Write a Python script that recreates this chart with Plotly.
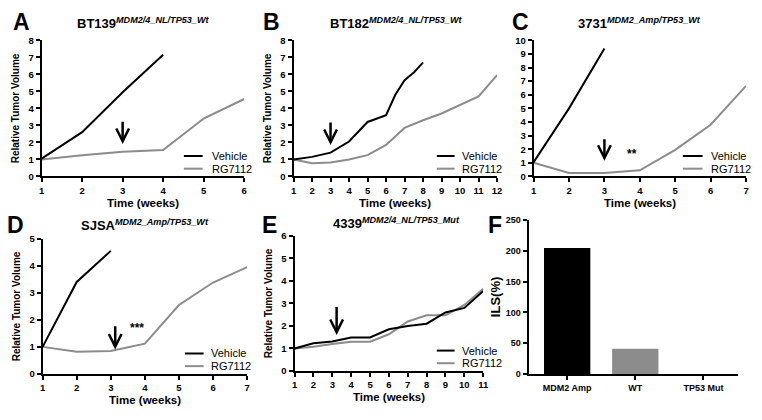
import plotly.graph_objects as go

# page is 762x420; the HTML body adds an 8px margin, so the figure is drawn smaller
PAGE_W, PAGE_H = 762, 420
OFF = 8
FW, FH = PAGE_W - 2 * OFF, PAGE_H - 2 * OFF
FONT = "Liberation Sans"
GRAY = "#8c8c8c"

# ---------------- data ----------------
a_veh_x = [1, 2, 3, 4]
a_veh_y = [1.05, 2.6, 4.95, 7.15]
a_rg_x = [1, 2, 3, 4, 5, 6]
a_rg_y = [1.0, 1.25, 1.45, 1.55, 3.4, 4.55]

b_veh_x = [1, 2, 3, 4, 5, 6, 6.5, 7, 7.5, 8]
b_veh_y = [1.0, 1.15, 1.4, 2.05, 3.2, 3.6, 4.8, 5.65, 6.1, 6.7]
b_rg_x = [1, 2, 3, 4, 5, 6, 7, 8, 9, 10, 11, 12]
b_rg_y = [1.0, 0.78, 0.82, 1.0, 1.25, 1.85, 2.85, 3.3, 3.7, 4.2, 4.7, 5.95]

c_veh_x = [1, 2, 3]
c_veh_y = [1.05, 5.0, 9.4]
c_rg_x = [1, 2, 3, 4, 5, 6, 7]
c_rg_y = [1.0, 0.25, 0.25, 0.45, 1.95, 3.8, 6.65]

d_veh_x = [1, 2, 3]
d_veh_y = [1.0, 3.4, 4.55]
d_rg_x = [1, 2, 3, 4, 5, 6, 7]
d_rg_y = [1.0, 0.82, 0.85, 1.12, 2.55, 3.38, 3.95]

e_veh_x = [1, 2, 3, 4, 5, 6, 7, 8, 9, 10, 11]
e_veh_y = [1.0, 1.23, 1.31, 1.49, 1.49, 1.85, 2.0, 2.1, 2.6, 2.8, 3.55]
e_rg_x = [1, 2, 3, 4, 5, 6, 7, 8, 9, 10, 11]
e_rg_y = [1.0, 1.08, 1.2, 1.3, 1.3, 1.63, 2.2, 2.47, 2.47, 2.93, 3.65]

f_cats = ["MDM2 Amp", "WT", "TP53 Mut"]
f_vals = [205, 41, 0]
f_colors = ["black", GRAY, GRAY]

titles = {
    "A": ("BT139", "MDM2/4_NL/TP53_Wt"),
    "B": ("BT182", "MDM2/4_NL/TP53_Wt"),
    "C": ("3731", "MDM2_Amp/TP53_Wt"),
    "D": ("SJSA", "MDM2_Amp/TP53_Wt"),
    "E": ("4339", "MDM2/4_NL/TP53_Mut"),
}

# ---------------- layout in page pixels ----------------
panels = {
    "A": dict(px=(39, 244, 35, 175), xr=[1, 6], yr=[0, 8], dy=1),
    "B": dict(px=(294, 500, 35, 175), xr=[1, 12], yr=[0, 8], dy=1),
    "C": dict(px=(537, 752, 35, 175), xr=[1, 7], yr=[0, 10], dy=1),
    "D": dict(px=(40, 247, 239, 378), xr=[1, 7], yr=[0, 5], dy=1),
    "E": dict(px=(295, 486, 236, 375), xr=[1, 11], yr=[0, 6], dy=1),
    "F": dict(px=(532, 744, 220, 378), xr=[-0.565, 2.51], yr=[0, 250], dy=50),
}

def px2x(p):
    return (p - OFF) / FW

def px2y(p):
    return 1 - (p - OFF) / FH

fig = go.Figure()
annotations = []
shapes = []

names = ["A", "B", "C", "D", "E", "F"]

def axis_common(size):
    return dict(showline=True, linecolor="black", linewidth=2, ticks="outside",
                tickcolor="black", tickwidth=2, ticklen=4, showgrid=False, zeroline=False,
                tickfont=dict(family=FONT, size=size, color="black", weight="bold"))

for i, key in enumerate(names):
    p = panels[key]
    l, r, t, b = p["px"]
    n = "" if i == 0 else str(i + 1)
    xa, ya = "xaxis" + n, "yaxis" + n
    xref, yref = "x" + n, "y" + n
    if key != "F":
        fig.layout[xa] = dict(domain=[px2x(l), px2x(r)], range=p["xr"], anchor=yref,
                              tickmode="linear", tick0=1, dtick=1, **axis_common(9.5))
        fig.layout[ya] = dict(domain=[px2y(b), px2y(t)], range=p["yr"], anchor=xref,
                              tickmode="linear", tick0=0, dtick=p["dy"], **axis_common(9.5))
    else:
        fig.layout[xa] = dict(domain=[px2x(l), px2x(r)], range=p["xr"], anchor=yref,
                              tickmode="array", tickvals=[0, 1, 2], ticktext=f_cats,
                              **axis_common(9))
        fig.layout[ya] = dict(domain=[px2y(b), px2y(t)], range=p["yr"], anchor=xref,
                              tickmode="linear", tick0=0, dtick=p["dy"], **axis_common(9))

series = {
    "A": (a_veh_x, a_veh_y, a_rg_x, a_rg_y),
    "B": (b_veh_x, b_veh_y, b_rg_x, b_rg_y),
    "C": (c_veh_x, c_veh_y, c_rg_x, c_rg_y),
    "D": (d_veh_x, d_veh_y, d_rg_x, d_rg_y),
    "E": (e_veh_x, e_veh_y, e_rg_x, e_rg_y),
}

for i, key in enumerate(names[:5]):
    n = "" if i == 0 else str(i + 1)
    vx, vy, rx, ry = series[key]
    fig.add_trace(go.Scatter(x=rx, y=ry, mode="lines", line=dict(color=GRAY, width=2),
                             xaxis="x" + n, yaxis="y" + n, showlegend=False, cliponaxis=False))
    fig.add_trace(go.Scatter(x=vx, y=vy, mode="lines", line=dict(color="black", width=2),
                             xaxis="x" + n, yaxis="y" + n, showlegend=False, cliponaxis=False))

fig.add_trace(go.Bar(x=[0, 1, 2], y=f_vals, marker=dict(color=f_colors, line=dict(width=0)),
                     width=0.68, xaxis="x6", yaxis="y6", showlegend=False))

# ---------------- text ----------------
def txt(x, y, s, size, xanchor="center", yanchor="middle", **kw):
    d = dict(x=px2x(x), y=px2y(y), xref="paper", yref="paper", text=s, showarrow=False,
             xanchor=xanchor, yanchor=yanchor,
             font=dict(family=FONT, size=size, color="black"))
    d.update(kw)
    annotations.append(d)

letters = {"A": (19, 16), "B": (272, 16), "C": (524, 16), "D": (13, 225), "E": (270, 225), "F": (498, 225)}
for k, (x, y) in letters.items():
    txt(x, y, "<b>%s</b>" % k, 23)

title_pos = {"A": (142, 17), "B": (398, 17), "C": (644, 17), "D": (144, 225), "E": (398, 223)}
for k, (x, y) in title_pos.items():
    main, sup = titles[k]
    txt(x, y, "<b>%s<sup><i>%s</i></sup></b>" % (main, sup), 13)

for k in ["A", "B", "C", "D", "E"]:
    l, r, t, b = panels[k]["px"]
    txt((l + r) / 2, b + 27, "<b>Time (weeks)</b>", 11.5)
ytitle_x = {"A": 12, "B": 267, "D": 13, "E": 269}
for k, x in ytitle_x.items():
    l, r, t, b = panels[k]["px"]
    txt(x, (t + b) / 2, "<b>Relative Tumor Volume</b>", 10, textangle=-90)
txt(498, 299, "<b>ILS(%)</b>", 13, textangle=-90)

# legends
leg = {"A": (-61, -42, -35), "B": (-61, -43, -38), "C": (-64, -44, -37),
       "D": (-63, -44, -39), "E": (-47, -29, -24)}
for k, (x0, x1, xt) in leg.items():
    l, r, t, b = panels[k]["px"]
    for dy, col, lab in [(-21, "black", "Vehicle"), (-8, GRAY, "RG7112")]:
        shapes.append(dict(type="line", xref="paper", yref="paper",
                           x0=px2x(r + x0), x1=px2x(r + x1), y0=px2y(b + dy), y1=px2y(b + dy),
                           line=dict(color=col, width=2)))
        txt(r + xt, b + dy, lab, 11, xanchor="left")

# arrows (data coords)
arrows = {"A": (3, 3.3, 1.9), "B": (3, 3.25, 1.85), "C": (3, 2.85, 1.15),
          "D": (3.13, 1.82, 0.9), "E": (3.23, 2.91, 1.6)}
for i, key in enumerate(names[:5]):
    n = "" if i == 0 else str(i + 1)
    x, y0, y1 = arrows[key]
    annotations.append(dict(x=x, y=y1, ax=x, ay=y0, xref="x" + n, yref="y" + n,
                            axref="x" + n, ayref="y" + n, showarrow=True, arrowhead=5,
                            arrowsize=1.0, arrowwidth=2.5, arrowcolor="black", text=""))

annotations.append(dict(x=3.77, y=1.63, xref="x3", yref="y3", text="<b>**</b>", showarrow=False,
                        font=dict(family=FONT, size=12, color="black")))
annotations.append(dict(x=3.76, y=1.71, xref="x4", yref="y4", text="<b>***</b>", showarrow=False,
                        font=dict(family=FONT, size=12, color="black")))

fig.update_layout(width=FW, height=FH, margin=dict(l=0, r=0, t=0, b=0),
                  paper_bgcolor="white", plot_bgcolor="white",
                  annotations=annotations, shapes=shapes)

fig.write_html("out.html")
